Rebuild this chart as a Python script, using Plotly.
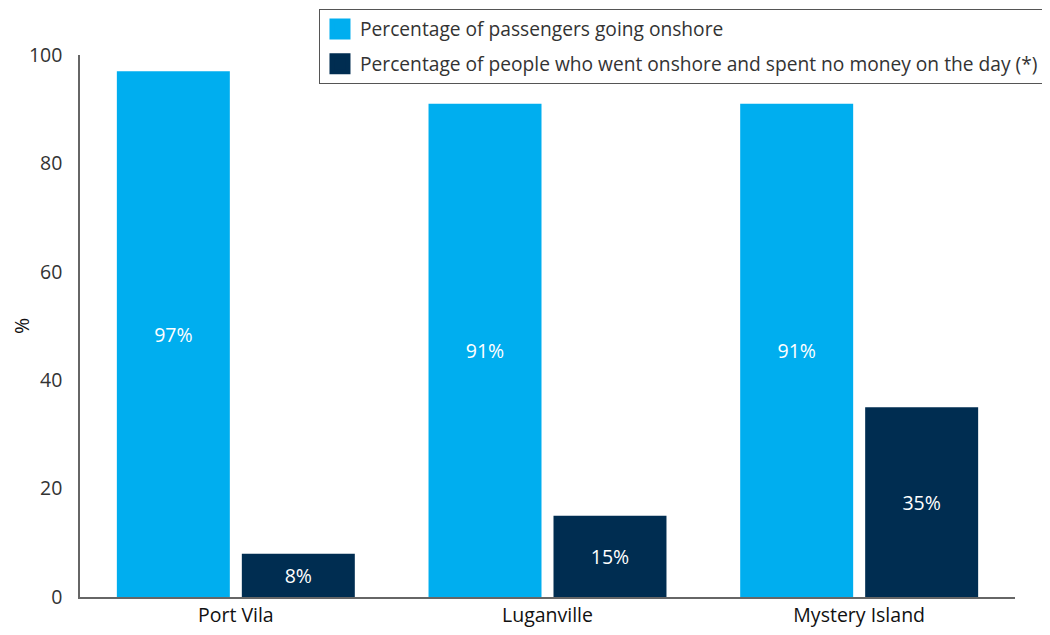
import plotly.graph_objects as go

categories = ["Port Vila", "Luganville", "Mystery Island"]
onshore = [97, 91, 91]
no_spend = [8, 15, 35]
series_names = ["Percentage of passengers going onshore",
                "Percentage of people who went onshore and spent no money on the day (*)"]
y_ticks = [0, 20, 40, 60, 80, 100]

LIGHT = "#00AEEF"
DARK = "#002D51"
FONT = "Open Sans, Lato, sans-serif"
FS = 19.5

fig = go.Figure()
for vals, name, col, grp in [(onshore, series_names[0], LIGHT, "a"),
                             (no_spend, series_names[1], DARK, "b")]:
    fig.add_trace(go.Bar(
        x=categories, y=vals, name=name, marker_color=col, legendgroup=grp, showlegend=False,
        text=[f"{v}%" for v in vals], textposition="inside", insidetextanchor="middle",
        textfont=dict(color="white", size=FS, family=FONT), marker_line_width=0,
    ))
    # legend entry with a larger square swatch
    fig.add_trace(go.Scatter(
        x=[None], y=[None], mode="markers", name=name, legendgroup=grp,
        marker=dict(symbol="square", size=16, color=col, line=dict(color=col, width=5)),
    ))

fig.update_layout(
    width=1050, height=635,
    margin=dict(l=72, r=43, t=47, b=46, autoexpand=False),
    plot_bgcolor="white", paper_bgcolor="white",
    barmode="group", bargap=0.198, bargroupgap=0.096,
    font=dict(family=FONT, size=FS, color="#333333"),
    uniformtext=dict(minsize=FS, mode="show"),
    legend=dict(
        x=1.031, xanchor="right", y=1.085, yanchor="top",
        bordercolor="#555555", borderwidth=1, bgcolor="white",
        font=dict(size=19.2, color="#333333", family=FONT),
        itemsizing="trace", tracegroupgap=7,
    ),
    xaxis=dict(
        showline=True, linecolor="#666666", linewidth=1.5, automargin=False,
        showgrid=False, ticks="", tickfont=dict(size=FS, color="#111111"),
    ),
    yaxis=dict(
        range=[0, 100], tickvals=y_ticks, showline=True, linecolor="#666666", linewidth=1.5,
        showgrid=False, ticks="", zeroline=False, automargin=False,
        tickfont=dict(size=FS, color="#333333"), ticklabelstandoff=12,
        title=dict(text="%", font=dict(size=FS, color="#111111"), standoff=16),
    ),
)

fig.write_html("out.html")
